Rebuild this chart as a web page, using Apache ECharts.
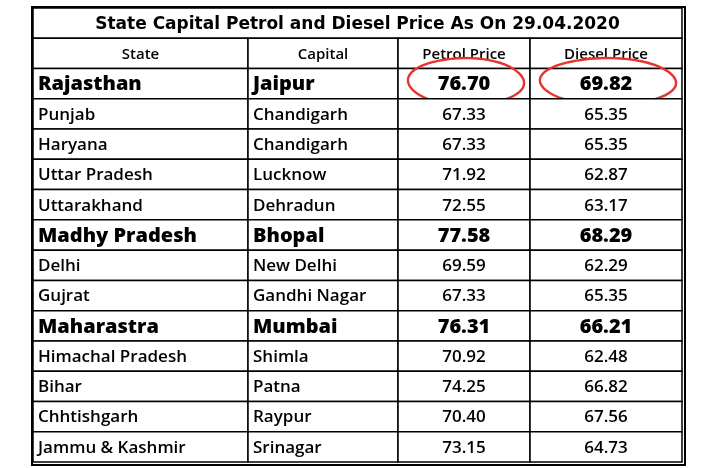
<!DOCTYPE html><html><head><meta charset="utf-8">
<script src="https://cdn.jsdelivr.net/npm/echarts@6/dist/echarts.min.js"></script>
<style>html,body{margin:0;background:#fff}#c{width:716px;height:468px}</style></head><body><div id="c"></div>
<script>
const title = "State Capital Petrol and Diesel Price As On 29.04.2020";
const headers = ["State","Capital","Petrol Price","Diesel Price"];
const states = ["Rajasthan","Punjab","Haryana","Uttar Pradesh","Uttarakhand","Madhy Pradesh","Delhi","Gujrat","Maharastra","Himachal Pradesh","Bihar","Chhtishgarh","Jammu & Kashmir"];
const capitals = ["Jaipur","Chandigarh","Chandigarh","Lucknow","Dehradun","Bhopal","New Delhi","Gandhi Nagar","Mumbai","Shimla","Patna","Raypur","Srinagar"];
const petrol = [76.70,67.33,67.33,71.92,72.55,77.58,69.59,67.33,76.31,70.92,74.25,70.40,73.15];
const diesel = [69.82,65.35,65.35,62.87,63.17,68.29,62.29,65.35,66.21,62.48,66.82,67.56,64.73];
const boldRows = ["Rajasthan","Madhy Pradesh","Maharastra"];
const circled = ["Rajasthan"];

const colEdges = [0,215,365,497,649];
const rowNames = ["title","header"].concat(states);
const data = [];
data.push([0,0,title,'title']);
headers.forEach((h,i)=>data.push([i,1,h,'header']));
states.forEach((s,r)=>{
  const b = boldRows.includes(s)?'bold':'normal';
  data.push([0,r+2,s,b]);
  data.push([1,r+2,capitals[r],b]);
  data.push([2,r+2,petrol[r].toFixed(2),b,circled.includes(s)]);
  data.push([3,r+2,diesel[r].toFixed(2),b,circled.includes(s)]);
});
const chart = echarts.init(document.getElementById('c'));
chart.setOption({
  animation:false,
  grid:{left:33,top:8,width:649,height:454},
  xAxis:{type:'value',min:0,max:649,show:false},
  yAxis:{type:'category',data:rowNames,inverse:true,show:false},
  series:[{type:'custom',data:data,renderItem:function(params,api){
    const c=api.value(0), r=api.value(1), txt=data[params.dataIndex][2], kind=data[params.dataIndex][3], circ=data[params.dataIndex][4];
    const x0 = api.coord([kind==='title'?0:colEdges[c],r])[0];
    const x1 = api.coord([kind==='title'?colEdges[4]:colEdges[c+1],r])[0];
    const yc = api.coord([0,r])[1];
    const h = api.size([0,1])[1];
    const children=[{type:'rect',shape:{x:x0,y:yc-h/2,width:x1-x0,height:h},style:{fill:'#fff',stroke:'#000',lineWidth:1.5}}];
    let font, align='left', tx=x0+5;
    if(kind==='title'){font='900 17px "DejaVu Sans"';align='center';tx=(x0+x1)/2;}
    else if(kind==='header'){font='600 15px "Open Sans"';align='center';tx=(x0+x1)/2;}
    else if(kind==='bold'){font='800 20px "Open Sans"';}
    else font='600 17px "Open Sans"';
    if(c>=2 && kind!=='title'){align='center';tx=(x0+x1)/2;}
    children.push({type:'text',style:{text:txt,x:tx,y:yc+1,align:align,verticalAlign:'middle',font:font,fill:'#000'}});
    if(circ){
      const cx=(x0+x1)/2+2, rx=(x1-x0)/2-8, ry=h*0.78, pts=[];
      for(let i=0;i<=60;i++){const a=i/60*2*Math.PI*1.08-0.3;pts.push([cx+rx*Math.cos(a)*(1+0.03*Math.sin(a*2)),yc-2+ry*Math.sin(a)]);}
      children.push({type:'polyline',shape:{points:pts},style:{stroke:'#e8322c',lineWidth:2.4,fill:null}});
    }
    return {type:'group',children:children};
  }}]
});
</script>
<div style="position:absolute;left:31px;top:6px;width:651px;height:456px;border:2px solid #000;pointer-events:none"></div>
</body></html>
